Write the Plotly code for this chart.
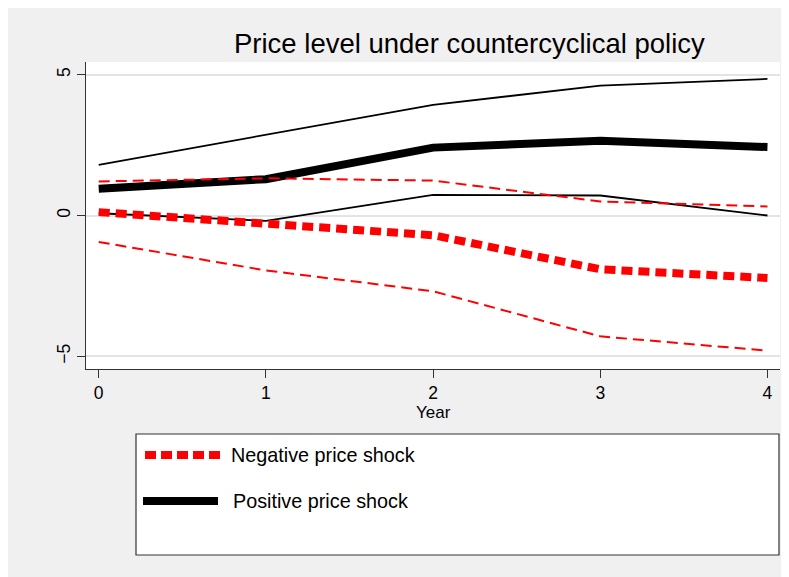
import plotly.graph_objects as go

years = [0, 1, 2, 3, 4]
pos_mid = [0.95, 1.29, 2.41, 2.65, 2.43]
pos_hi = [1.80, 2.86, 3.93, 4.61, 4.85]
pos_lo = [0.08, -0.19, 0.73, 0.71, 0.00]
neg_mid = [0.12, -0.26, -0.70, -1.91, -2.22]
neg_hi = [1.21, 1.32, 1.24, 0.50, 0.32]
neg_lo = [-0.94, -1.95, -2.69, -4.29, -4.80]
y_ticks = [-5, 0, 5]
x_ticks = [0, 1, 2, 3, 4]
title_text = "Price level under countercyclical policy"
legend_labels = ["Negative price shock", "Positive price shock"]

OFF = 8  # page body margin
PAGE_W, PAGE_H = 789, 577
W, H = PAGE_W - OFF, PAGE_H - OFF
# plot area in page coordinates
L, R, T, B = 86, 780, 62, 369
pw, ph = R - L, B - T


def px(x):
    return (x - L) / pw


def py(y):
    return (B - y) / ph


FONT = "Liberation Sans, Arial, sans-serif"

fig = go.Figure()
fig.add_trace(go.Scatter(x=years, y=pos_hi, mode="lines", line=dict(color="black", width=1.8)))
fig.add_trace(go.Scatter(x=years, y=pos_lo, mode="lines", line=dict(color="black", width=1.8)))
fig.add_trace(go.Scatter(x=years, y=pos_mid, mode="lines", line=dict(color="black", width=8)))
fig.add_trace(go.Scatter(x=years, y=neg_hi, mode="lines", line=dict(color="red", width=2, dash="11px,6px")))
fig.add_trace(go.Scatter(x=years, y=neg_lo, mode="lines", line=dict(color="red", width=2, dash="11px,6px")))
fig.add_trace(go.Scatter(x=years, y=neg_mid, mode="lines", line=dict(color="red", width=8, dash="11px,6px")))

shapes = [
    # legend box
    dict(type="rect", xref="paper", yref="paper", x0=px(136), x1=px(779), y0=py(555), y1=py(434),
         fillcolor="white", line=dict(color="#333333", width=1.2)),
    # legend samples
    dict(type="line", xref="paper", yref="paper", x0=px(145), x1=px(221), y0=py(455), y1=py(455),
         line=dict(color="red", width=8, dash="11px,5px")),
    dict(type="line", xref="paper", yref="paper", x0=px(143), x1=px(218), y0=py(501), y1=py(501),
         line=dict(color="black", width=8)),
]

annotations = [
    dict(text=title_text, xref="paper", yref="paper", x=px(469.5), y=py(44), xanchor="center",
         yanchor="middle", showarrow=False, font=dict(family=FONT, size=27.5, color="black")),
    dict(text="Year", xref="paper", yref="paper", x=px(433), y=py(412), xanchor="center",
         yanchor="middle", showarrow=False, font=dict(family=FONT, size=17, color="black")),
    dict(text=legend_labels[0], xref="paper", yref="paper", x=px(229), y=py(455), xanchor="left",
         yanchor="middle", showarrow=False, font=dict(family=FONT, size=19.8, color="black")),
    dict(text=legend_labels[1], xref="paper", yref="paper", x=px(231), y=py(501), xanchor="left",
         yanchor="middle", showarrow=False, font=dict(family=FONT, size=19.8, color="black")),
]

fig.update_layout(
    width=W, height=H,
    margin=dict(l=L - OFF, r=PAGE_W - R, t=T - OFF, b=PAGE_H - B, pad=0),
    paper_bgcolor="#f0f0f0", plot_bgcolor="white",
    showlegend=False,
    shapes=shapes, annotations=annotations,
    font=dict(family=FONT, size=16, color="black"),
)
fig.update_xaxes(
    range=[-0.076, 4.075], tickvals=x_ticks, ticks="outside", ticklen=8, tickcolor="#333333",
    showline=True, linecolor="#333333", linewidth=1.2, showgrid=False, zeroline=False,
    tickfont=dict(family=FONT, size=17.5, color="black"),
)
fig.update_yaxes(
    range=[-5.45, 5.45], tickvals=y_ticks, ticks="outside", ticklen=8, tickcolor="#333333",
    showline=True, linecolor="#333333", linewidth=1.2, showgrid=True, gridcolor="#e4e4e4",
    gridwidth=1.5, zeroline=False, tickangle=-90,
    tickfont=dict(family=FONT, size=17.5, color="black"),
)

fig.write_html("out.html")
